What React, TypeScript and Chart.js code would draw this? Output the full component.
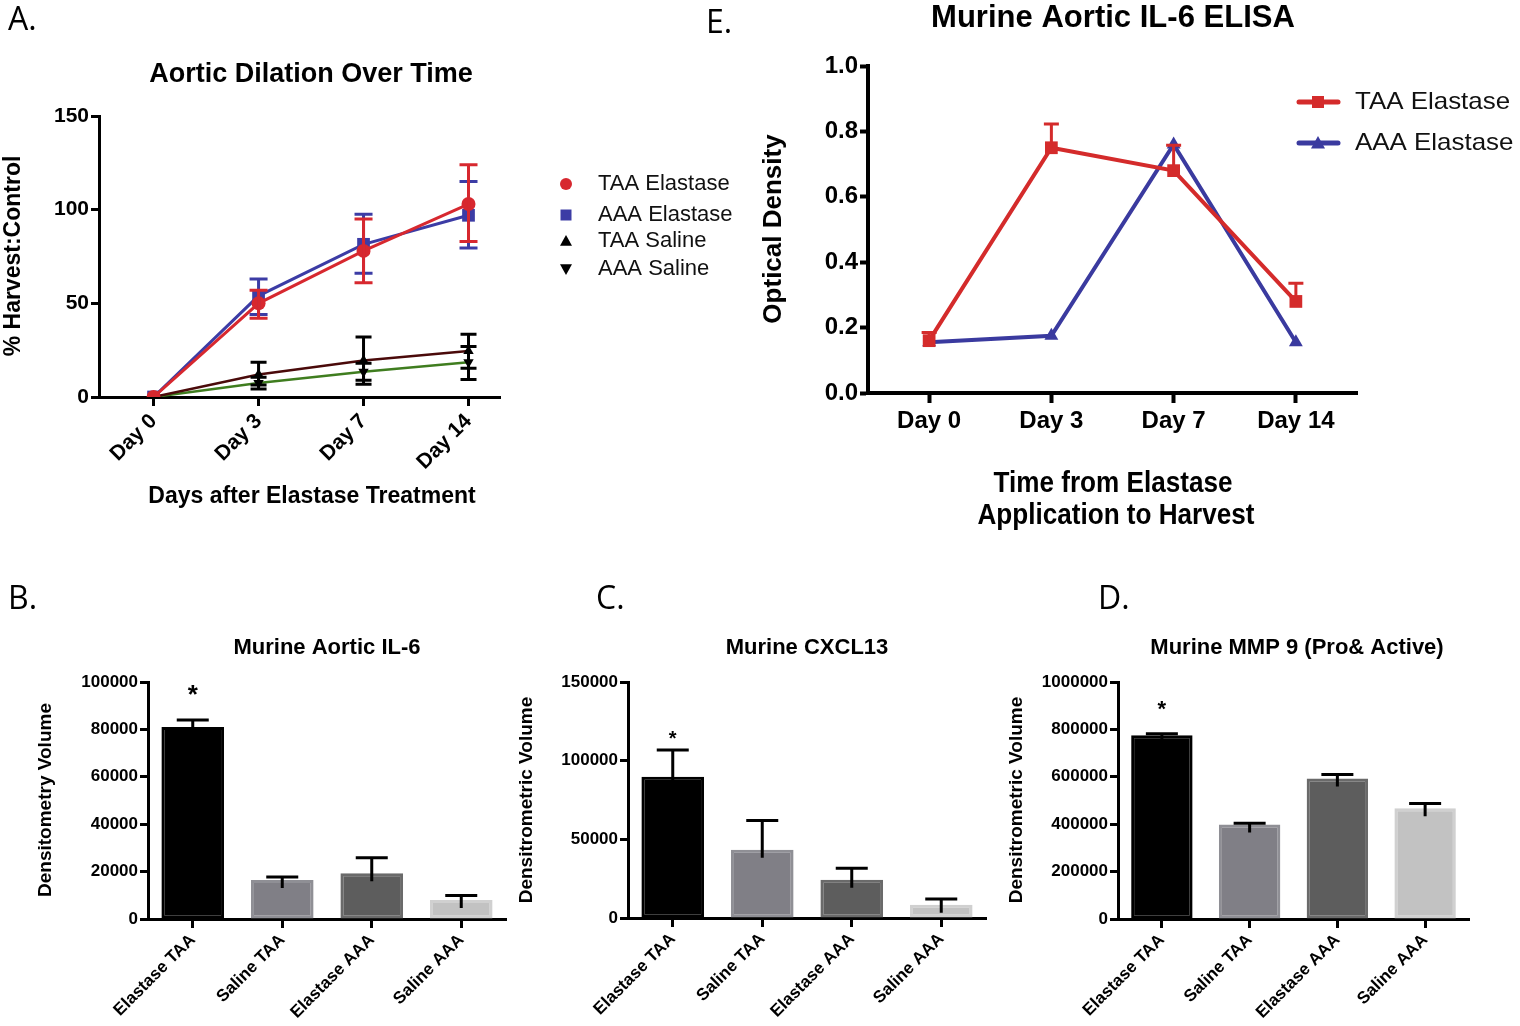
import React, { useEffect, useRef } from "react";
import { Chart, registerables } from "chart.js";

Chart.register(...registerables);

const SANS = "'Liberation Sans', Arial, Helvetica, sans-serif";
const LETTER = "'Open Sans', 'Noto Sans', sans-serif";

// ---------- Panel A: Aortic Dilation Over Time ----------
const dayLabels = ["Day 0", "Day 3", "Day 7", "Day 14"];
const dayIndex = [0, 1, 2, 3];
const taaElastaseA = [0, 50, 78, 103];
const taaElastaseALo = [0, 42, 61, 83];
const taaElastaseAHi = [0, 57, 95, 124];
const aaaElastaseA = [0, 54, 81.5, 97];
const aaaElastaseALo = [0, 44, 66, 79.5];
const aaaElastaseAHi = [0, 63, 97.5, 115];
const taaSalineA = [0, 12, 19.5, 24.5];
const taaSalineALo = [0, 6.4, 6.8, 15.3];
const taaSalineAHi = [0, 18.5, 32, 33.5];
const aaaSalineA = [0, 7.5, 13.5, 18.5];
const aaaSalineALo = [0, 4.3, 9, 9.4];
const aaaSalineAHi = [0, 10.5, 18, 26.9];
const seriesNamesA = ["TAA Elastase", "AAA Elastase", "TAA Saline", "AAA Saline"];

// ---------- Panel E: Murine Aortic IL-6 ELISA ----------
const taaElastaseE = [0.16, 0.75, 0.68, 0.28];
const taaElastaseEHi = [0.185, 0.823, 0.758, 0.336];
const aaaElastaseE = [0.155, 0.175, 0.76, 0.155];
const seriesNamesE = ["TAA Elastase", "AAA Elastase"];

// ---------- Panels B, C, D: bar charts ----------
const barCats = ["Elastase TAA", "Saline TAA", "Elastase AAA", "Saline AAA"];
const il6 = [81000, 16500, 19300, 8000];
const il6Err = [84000, 17700, 25800, 9900];
const cxcl13 = [89800, 43300, 24300, 8400];
const cxcl13Err = [106800, 61900, 31700, 12000];
const mmp9 = [775000, 399000, 593000, 467000];
const mmp9Err = [782000, 404000, 610000, 487000];
const sigMarks = ["*", "", "", ""];

const barFill = ["#000000", "#807f86", "#5d5d5d", "#c2c2c2"];
const barEdge = ["#000000", "#8f8f95", "#6a6a6a", "#d0d0d0"];

const W = 1520;
const H = 1026;

type Txt = { text: string; x: number; y: number; font: string; rot?: number; sx?: number; align?: CanvasTextAlign; color?: string };

function drawText(ctx: CanvasRenderingContext2D, t: Txt) {
  ctx.save();
  ctx.translate(t.x, t.y);
  if (t.rot) ctx.rotate(t.rot);
  if (t.sx) ctx.scale(t.sx, 1);
  ctx.font = t.font;
  ctx.fillStyle = t.color || "#000";
  ctx.textAlign = t.align || "center";
  ctx.textBaseline = "middle";
  ctx.fillText(t.text, 0, 0);
  ctx.restore();
}

function drawMarker(ctx: CanvasRenderingContext2D, shape: string, x: number, y: number, s: number, color: string) {
  ctx.save();
  ctx.fillStyle = color;
  ctx.beginPath();
  if (shape === "circle") {
    ctx.arc(x, y, s, 0, Math.PI * 2);
  } else if (shape === "square") {
    ctx.rect(x - s, y - s, 2 * s, 2 * s);
  } else if (shape === "up") {
    ctx.moveTo(x, y - s);
    ctx.lineTo(x + s, y + s * 0.8);
    ctx.lineTo(x - s, y + s * 0.8);
    ctx.closePath();
  } else if (shape === "down") {
    ctx.moveTo(x, y + s);
    ctx.lineTo(x + s, y - s * 0.8);
    ctx.lineTo(x - s, y - s * 0.8);
    ctx.closePath();
  }
  ctx.fill();
  ctx.restore();
}

type Err = { ds: number; hi?: number[]; lo?: number[]; color: string; width: number; cap: number; into?: number };

function makePlugin(id: string, texts: Txt[], errs: Err[], extra?: (chart: any) => void) {
  return {
    id,
    afterDatasetsDraw(chart: any) {
      const ctx = chart.ctx as CanvasRenderingContext2D;
      const ys = chart.scales.y;
      ctx.save();
      for (const e of errs) {
        const meta = chart.getDatasetMeta(e.ds);
        const vals = chart.data.datasets[e.ds].data;
        meta.data.forEach((el: any, i: number) => {
          const raw = vals[i];
          const v = typeof raw === "number" ? raw : raw.y;
          const hasHi = e.hi && e.hi[i] !== v;
          const hasLo = e.lo && e.lo[i] !== v;
          if (!hasHi && !hasLo) return;
          const x = el.x;
          const top = hasHi ? ys.getPixelForValue(e.hi![i]) : el.y;
          const bot = hasLo ? ys.getPixelForValue(e.lo![i]) : el.y + (e.into || 0);
          ctx.strokeStyle = e.color;
          ctx.lineWidth = e.width;
          ctx.lineCap = "butt";
          ctx.beginPath();
          ctx.moveTo(x, bot);
          ctx.lineTo(x, top);
          if (hasHi) {
            ctx.moveTo(x - e.cap / 2, top);
            ctx.lineTo(x + e.cap / 2, top);
          }
          if (hasLo) {
            ctx.moveTo(x - e.cap / 2, bot);
            ctx.lineTo(x + e.cap / 2, bot);
          }
          ctx.stroke();
        });
      }
      ctx.restore();
    },
    afterDraw(chart: any) {
      const ctx = chart.ctx as CanvasRenderingContext2D;
      texts.forEach((t) => drawText(ctx, t));
      if (extra) extra(chart);
    },
  };
}

function yScale(min: number, max: number, step: number, font: any, width: number, bw: number, fmt: (v: number) => string) {
  return {
    type: "linear",
    min,
    max,
    afterFit: (s: any) => {
      s.width = width;
    },
    ticks: { stepSize: step, color: "#000", font, padding: 2, autoSkip: false, callback: (v: any) => fmt(Number(v)) },
    grid: { display: true, drawOnChartArea: false, drawTicks: true, tickLength: 8, tickWidth: bw, color: "#000" },
    border: { display: true, color: "#000", width: bw },
  };
}

function barChartConfig(
  values: number[],
  errs: number[],
  yMax: number,
  yStep: number,
  area: { l: number; r: number; t: number; b: number },
  texts: Txt[],
  starFont: string,
  starGap: number
) {
  const yW = 90;
  const xH = 100;
  const plugin = makePlugin(
    "bars" + area.l,
    texts,
    [{ ds: 0, hi: errs, color: "#000", width: 3, cap: 32, into: 8 }],
    (chart: any) => {
      const meta = chart.getDatasetMeta(0);
      const ys = chart.scales.y;
      sigMarks.forEach((m, i) => {
        if (!m) return;
        drawText(chart.ctx, { text: m, x: meta.data[i].x, y: ys.getPixelForValue(errs[i]) - starGap, font: starFont });
      });
    }
  );
  return {
    type: "bar",
    data: {
      labels: barCats,
      datasets: [
        {
          data: values,
          backgroundColor: barFill,
          borderColor: barEdge,
          borderWidth: 3,
          borderSkipped: false,
          barPercentage: 0.7,
          categoryPercentage: 1,
        },
      ],
    },
    options: {
      responsive: false,
      animation: false,
      events: [],
      devicePixelRatio: 1,
      layout: { padding: { left: area.l - yW, right: W - area.r, top: area.t, bottom: H - area.b - xH } },
      plugins: { legend: { display: false }, tooltip: { enabled: false }, title: { display: false } },
      scales: {
        x: {
          type: "category",
          offset: true,
          afterFit: (s: any) => {
            s.height = xH;
          },
          ticks: { color: "#000", font: { family: SANS, size: 17, weight: "bold" }, minRotation: 45, maxRotation: 45, padding: 2, autoSkip: false },
          grid: { display: true, offset: false, drawOnChartArea: false, drawTicks: true, tickLength: 9, tickWidth: 3, color: "#000" },
          border: { display: true, color: "#000", width: 3 },
        },
        y: yScale(0, yMax, yStep, { family: SANS, size: 17, weight: "bold" }, yW, 3, (v) => String(Math.round(v))),
      },
    },
    plugins: [plugin],
  };
}

function configA() {
  const area = { l: 99, r: 500, t: 116, b: 397 };
  const yW = 70;
  const xH = 100;
  const pts = (arr: number[]) => arr.map((y, i) => ({ x: dayIndex[i], y }));
  const legendRows = [
    { shape: "circle", color: "#d7282f", y: 184 },
    { shape: "square", color: "#3c3ca5", y: 215 },
    { shape: "up", color: "#000", y: 241 },
    { shape: "down", color: "#000", y: 269 },
  ];
  const texts: Txt[] = [
    { text: "A.", x: 8, y: 21, font: `32px ${LETTER}`, align: "left" },
    { text: "Aortic Dilation Over Time", x: 311, y: 75, font: `bold 27px ${SANS}` },
    { text: "% Harvest:Control", x: 14, y: 256, font: `bold 23px ${SANS}`, rot: -Math.PI / 2 },
    { text: "Days after Elastase Treatment", x: 312, y: 497, font: `bold 23px ${SANS}` },
    ...legendRows.map((r, i) => ({ text: seriesNamesA[i], x: 598, y: r.y, font: `22px ${SANS}`, align: "left" as CanvasTextAlign, color: "#111" })),
  ];
  const plugin = makePlugin(
    "A",
    texts,
    [
      { ds: 3, hi: aaaSalineAHi, lo: aaaSalineALo, color: "#000", width: 3, cap: 16 },
      { ds: 2, hi: taaSalineAHi, lo: taaSalineALo, color: "#000", width: 3, cap: 16 },
      { ds: 1, hi: aaaElastaseAHi, lo: aaaElastaseALo, color: "#3c3ca5", width: 3, cap: 18 },
      { ds: 0, hi: taaElastaseAHi, lo: taaElastaseALo, color: "#d7282f", width: 3, cap: 18 },
    ],
    (chart: any) => {
      legendRows.forEach((r) => drawMarker(chart.ctx, r.shape, 566, r.y, r.shape === "circle" ? 6 : r.shape === "square" ? 5.5 : 6, r.color));
    }
  );
  return {
    type: "line",
    data: {
      datasets: [
        { label: seriesNamesA[0], data: pts(taaElastaseA), borderColor: "#d7282f", backgroundColor: "#d7282f", borderWidth: 3, pointStyle: "circle", pointRadius: 7, pointBorderWidth: 0 },
        { label: seriesNamesA[1], data: pts(aaaElastaseA), borderColor: "#3c3ca5", backgroundColor: "#3c3ca5", borderWidth: 3, pointStyle: "rect", pointRadius: 9, pointBorderWidth: 0 },
        { label: seriesNamesA[2], data: pts(taaSalineA), borderColor: "#4a0a0a", backgroundColor: "#000", borderWidth: 2.5, pointStyle: "triangle", pointRadius: 6, pointBorderWidth: 0 },
        { label: seriesNamesA[3], data: pts(aaaSalineA), borderColor: "#3f7d1f", backgroundColor: "#000", borderWidth: 2.5, pointStyle: "triangle", pointRotation: 180, pointRadius: 6, pointBorderWidth: 0 },
      ],
    },
    options: {
      responsive: false,
      animation: false,
      events: [],
      devicePixelRatio: 1,
      layout: { padding: { left: area.l - yW, right: W - area.r, top: area.t, bottom: H - area.b - xH } },
      plugins: { legend: { display: false }, tooltip: { enabled: false }, title: { display: false } },
      scales: {
        x: {
          type: "linear",
          min: -0.52,
          max: 3.3,
          afterBuildTicks: (s: any) => {
            s.ticks = dayIndex.map((v) => ({ value: v }));
          },
          afterFit: (s: any) => {
            s.height = xH;
          },
          ticks: { color: "#000", font: { family: SANS, size: 21, weight: "bold" }, minRotation: 45, maxRotation: 45, padding: 3, autoSkip: false, callback: (v: any) => dayLabels[Number(v)] ?? "" },
          grid: { display: true, drawOnChartArea: false, drawTicks: true, tickLength: 9, tickWidth: 3, color: "#000" },
          border: { display: true, color: "#000", width: 3 },
        },
        y: yScale(0, 150, 50, { family: SANS, size: 21, weight: "bold" }, yW, 3, (v) => String(v)),
      },
    },
    plugins: [plugin],
  };
}

function configE() {
  const area = { l: 868, r: 1357, t: 66, b: 393 };
  const yW = 70;
  const xH = 60;
  const red = "#d42b2b";
  const blue = "#3a3a9f";
  const texts: Txt[] = [
    { text: "E.", x: 706, y: 24, font: `32px ${LETTER}`, align: "left" },
    { text: "Murine Aortic IL-6 ELISA", x: 1113, y: 18, font: `bold 32px ${SANS}`, sx: 0.97 },
    { text: "Optical Density", x: 774, y: 229, font: `bold 26px ${SANS}`, rot: -Math.PI / 2 },
    { text: "Time from Elastase", x: 1113, y: 484, font: `bold 30px ${SANS}`, sx: 0.87 },
    { text: "Application to Harvest", x: 1116, y: 516, font: `bold 30px ${SANS}`, sx: 0.87 },
    { text: seriesNamesE[0], x: 1355, y: 102, font: `24px ${SANS}`, sx: 1.08, align: "left", color: "#111" },
    { text: seriesNamesE[1], x: 1355, y: 143, font: `24px ${SANS}`, sx: 1.08, align: "left", color: "#111" },
  ];
  const plugin = makePlugin("E", texts, [{ ds: 0, hi: taaElastaseEHi, color: red, width: 3, cap: 15 }], (chart: any) => {
    const ctx = chart.ctx as CanvasRenderingContext2D;
    [
      { y: 102, c: red, s: "square" },
      { y: 143, c: blue, s: "up" },
    ].forEach((r) => {
      ctx.save();
      ctx.strokeStyle = r.c;
      ctx.lineWidth = 5;
      ctx.lineCap = "round";
      ctx.beginPath();
      ctx.moveTo(1299, r.y);
      ctx.lineTo(1338, r.y);
      ctx.stroke();
      ctx.restore();
      drawMarker(ctx, r.s, 1318, r.y, r.s === "square" ? 6 : 7, r.c);
    });
  });
  return {
    type: "line",
    data: {
      labels: dayLabels,
      datasets: [
        { label: seriesNamesE[0], data: taaElastaseE, borderColor: red, backgroundColor: red, borderWidth: 4, pointStyle: "rect", pointRadius: 9, pointBorderWidth: 0 },
        { label: seriesNamesE[1], data: aaaElastaseE, borderColor: blue, backgroundColor: blue, borderWidth: 4, pointStyle: "triangle", pointRadius: 8, pointBorderWidth: 0 },
      ],
    },
    options: {
      responsive: false,
      animation: false,
      events: [],
      devicePixelRatio: 1,
      layout: { padding: { left: area.l - yW, right: W - area.r, top: area.t, bottom: H - area.b - xH } },
      plugins: { legend: { display: false }, tooltip: { enabled: false }, title: { display: false } },
      scales: {
        x: {
          type: "category",
          offset: true,
          afterFit: (s: any) => {
            s.height = xH;
          },
          ticks: { color: "#000", font: { family: SANS, size: 24, weight: "bold" }, maxRotation: 0, minRotation: 0, padding: 4, autoSkip: false },
          grid: { display: true, offset: false, drawOnChartArea: false, drawTicks: true, tickLength: 10, tickWidth: 4, color: "#000" },
          border: { display: true, color: "#000", width: 4 },
        },
        y: yScale(0, 1, 0.2, { family: SANS, size: 24, weight: "bold" }, yW, 4, (v) => v.toFixed(1)),
      },
    },
    plugins: [plugin],
  };
}

function configB() {
  return barChartConfig(
    il6,
    il6Err,
    100000,
    20000,
    { l: 148, r: 506, t: 682, b: 919 },
    [
      { text: "B.", x: 8, y: 600, font: `32px ${LETTER}`, align: "left" },
      { text: "Murine Aortic IL-6", x: 327, y: 648, font: `bold 22px ${SANS}` },
      { text: "Densitometry Volume", x: 46, y: 800, font: `bold 19px ${SANS}`, rot: -Math.PI / 2 },
    ],
    `bold 26px ${SANS}`,
    24
  );
}

function configC() {
  return barChartConfig(
    cxcl13,
    cxcl13Err,
    150000,
    50000,
    { l: 628, r: 986, t: 682, b: 918 },
    [
      { text: "C.", x: 596, y: 600, font: `32px ${LETTER}`, align: "left" },
      { text: "Murine CXCL13", x: 807, y: 648, font: `bold 22px ${SANS}` },
      { text: "Densitrometric Volume", x: 527, y: 800, font: `bold 19px ${SANS}`, rot: -Math.PI / 2 },
    ],
    `bold 20px ${SANS}`,
    10
  );
}

function configD() {
  return barChartConfig(
    mmp9,
    mmp9Err,
    1000000,
    200000,
    { l: 1118, r: 1469, t: 682, b: 919 },
    [
      { text: "D.", x: 1098, y: 600, font: `32px ${LETTER}`, align: "left" },
      { text: "Murine MMP 9 (Pro& Active)", x: 1297, y: 648, font: `bold 22px ${SANS}` },
      { text: "Densitrometric Volume", x: 1017, y: 800, font: `bold 19px ${SANS}`, rot: -Math.PI / 2 },
    ],
    `bold 22px ${SANS}`,
    24
  );
}

export default function App() {
  const rA = useRef<HTMLCanvasElement>(null);
  const rE = useRef<HTMLCanvasElement>(null);
  const rB = useRef<HTMLCanvasElement>(null);
  const rC = useRef<HTMLCanvasElement>(null);
  const rD = useRef<HTMLCanvasElement>(null);

  useEffect(() => {
    const pairs: [React.RefObject<HTMLCanvasElement>, () => any][] = [
      [rA, configA],
      [rE, configE],
      [rB, configB],
      [rC, configC],
      [rD, configD],
    ];
    const charts = pairs.map(([r, f]) => new Chart(r.current as HTMLCanvasElement, f()));
    return () => charts.forEach((c) => c.destroy());
  }, []);

  const cs: React.CSSProperties = { position: "absolute", left: 0, top: 0, width: W, height: H };
  return (
    <div style={{ position: "absolute", left: 0, top: 0, width: W, height: H, background: "#fff", overflow: "hidden" }}>
      <canvas ref={rA} width={W} height={H} style={cs} />
      <canvas ref={rE} width={W} height={H} style={cs} />
      <canvas ref={rB} width={W} height={H} style={cs} />
      <canvas ref={rC} width={W} height={H} style={cs} />
      <canvas ref={rD} width={W} height={H} style={cs} />
    </div>
  );
}
